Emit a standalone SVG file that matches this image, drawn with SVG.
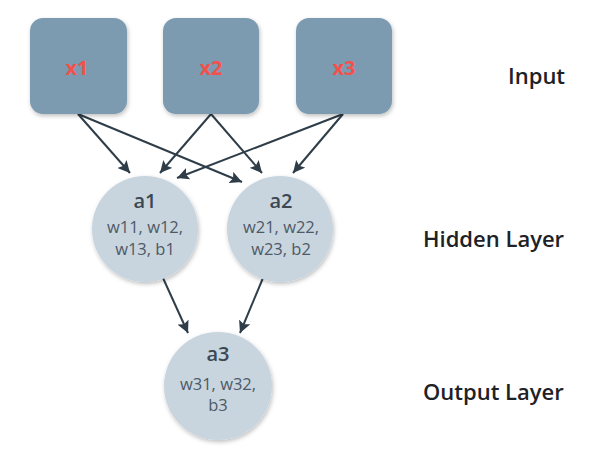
<svg xmlns="http://www.w3.org/2000/svg" width="605" height="451" viewBox="0 0 605 451">
<style>
.box{fill:#7b9bb1;filter:url(#sh)}
.node{fill:#c8d5df;filter:url(#sh)}
.xl{font-family:"Open Sans","Noto Sans",sans-serif;font-weight:700;font-size:20px;fill:#f4514d;text-anchor:middle}
.al{font-family:"Open Sans","Noto Sans",sans-serif;font-weight:600;font-size:20px;fill:#3b4853;text-anchor:middle}
.wl{font-family:"Open Sans","Noto Sans",sans-serif;font-weight:400;font-size:16.5px;fill:#4d5a66;text-anchor:middle}
.lay{font-family:"Open Sans","Noto Sans",sans-serif;font-weight:600;font-size:22px;fill:#1e2226}
.edge{stroke:#2e3d48;stroke-width:2;fill:none;marker-end:url(#ah)}
</style>
<defs>
<filter id="sh" x="-20%" y="-20%" width="140%" height="140%">
<feDropShadow dx="1" dy="2" stdDeviation="2" flood-color="#000" flood-opacity="0.25"/>
</filter>
<marker id="ah" viewBox="0 0 10 10" refX="10" refY="5" markerWidth="6" markerHeight="6" markerUnits="strokeWidth" orient="auto">
<path d="M0,0 L10,5 L0,10 L2,5 Z" fill="#2e3d48"/>
</marker>
</defs>
<rect width="605" height="451" fill="#ffffff"/>
<g id="connectors">
<line class="edge" x1="78" y1="114" x2="130" y2="173"/>
<line class="edge" x1="78" y1="114" x2="242" y2="182"/>
<line class="edge" x1="211" y1="114" x2="160" y2="173"/>
<line class="edge" x1="211" y1="114" x2="262" y2="173"/>
<line class="edge" x1="343" y1="114" x2="177" y2="178"/>
<line class="edge" x1="343" y1="114" x2="293" y2="173"/>
<line class="edge" x1="163" y1="278" x2="188" y2="333"/>
<line class="edge" x1="263" y1="278" x2="240" y2="333"/>
</g>
<g id="x1"><rect class="box" x="30" y="18" width="97" height="96" rx="13"/><text class="xl" x="77" y="75">x1</text></g>
<g id="x2"><rect class="box" x="163" y="18" width="96" height="96" rx="13"/><text class="xl" x="211" y="75">x2</text></g>
<g id="x3"><rect class="box" x="296" y="18" width="96" height="96" rx="13"/><text class="xl" x="344" y="75">x3</text></g>
<g id="a1"><circle class="node" cx="145" cy="229" r="53"/><text class="al" x="145" y="208">a1</text><text class="wl" x="145" y="233">w11, w12,</text><text class="wl" x="145" y="255">w13, b1</text></g>
<g id="a2"><circle class="node" cx="280" cy="229" r="53"/><text class="al" x="281" y="208">a2</text><text class="wl" x="281" y="233">w21, w22,</text><text class="wl" x="281" y="255">w23, b2</text></g>
<g id="a3"><circle class="node" cx="218" cy="386" r="54"/><text class="al" x="218" y="361">a3</text><text class="wl" x="218" y="390">w31, w32,</text><text class="wl" x="218" y="411">b3</text></g>
<g id="labels">
<text class="lay" x="508" y="84">Input</text>
<text class="lay" x="423" y="247">Hidden Layer</text>
<text class="lay" x="423" y="400">Output Layer</text>
</g>
</svg>
